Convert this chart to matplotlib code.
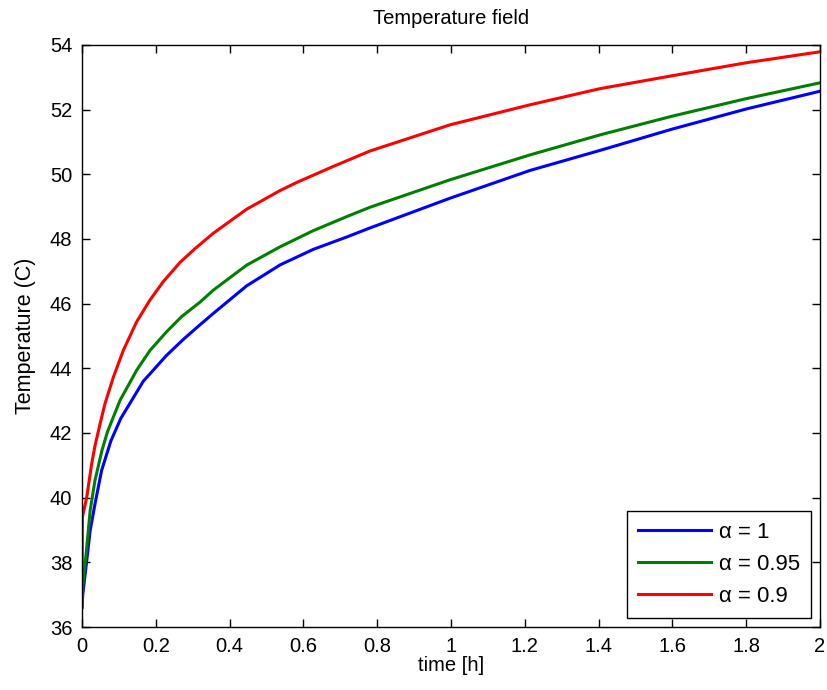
import numpy as np
import matplotlib
matplotlib.use("Agg")
import matplotlib.pyplot as plt

plt.rcParams['font.family'] = ['Liberation Sans', 'DejaVu Sans']

# time [h] and temperature (C)
t_blue = [0, 0.002, 0.0127, 0.022, 0.035, 0.053, 0.078, 0.105, 0.166, 0.229, 0.275,
          0.320, 0.356, 0.446, 0.537, 0.627, 0.717, 0.780, 0.997, 1.214, 1.404,
          1.6, 1.8, 2.0]
temp_a1 = [36.6, 37.0, 38.05, 38.98, 39.8, 40.84, 41.75, 42.45, 43.6, 44.4, 44.9,
           45.35, 45.7, 46.55, 47.2, 47.68, 48.06, 48.34, 49.26, 50.12, 50.74,
           51.4, 52.02, 52.57]

t_green = [0, 0.002, 0.011, 0.022, 0.035, 0.054, 0.069, 0.103, 0.148, 0.184, 0.229,
           0.270, 0.320, 0.356, 0.446, 0.537, 0.627, 0.717, 0.780, 0.997, 1.214,
           1.404, 1.6, 1.8, 2.0]
temp_a095 = [36.7, 37.3, 38.25, 39.6, 40.53, 41.46, 42.04, 43.01, 43.94, 44.55, 45.13,
             45.6, 46.05, 46.42, 47.19, 47.76, 48.26, 48.69, 48.98, 49.83, 50.6,
             51.22, 51.8, 52.34, 52.83]

t_red = [0, 0.001, 0.0127, 0.026, 0.035, 0.049, 0.062, 0.085, 0.112, 0.148, 0.184,
         0.220, 0.266, 0.306, 0.356, 0.446, 0.537, 0.582, 0.68, 0.780, 0.997, 1.214,
         1.404, 1.6, 1.8, 2.0]
temp_a09 = [36.6, 39.4, 40.01, 41.04, 41.6, 42.29, 42.9, 43.73, 44.56, 45.44, 46.11,
            46.68, 47.28, 47.7, 48.18, 48.92, 49.5, 49.75, 50.24, 50.72, 51.53, 52.15,
            52.65, 53.05, 53.45, 53.79]

series = [
    (t_blue, temp_a1, '#0000ff', '\u03b1 = 1'),
    (t_green, temp_a095, '#008000', '\u03b1 = 0.95'),
    (t_red, temp_a09, '#ff0000', '\u03b1 = 0.9'),
]

fig = plt.figure(figsize=(8.27, 6.9), dpi=100)
ax = fig.add_axes([0.0992, 0.0913, 0.8923, 0.8435])

for t, temp, col, lab in series:
    ax.plot(t, temp, color=col, lw=2.2, label=lab)

ax.set_xlim(0, 2)
ax.set_ylim(36, 54)
ax.set_xticks(np.arange(0, 2.01, 0.2))
ax.set_xticklabels(['0', '0.2', '0.4', '0.6', '0.8', '1', '1.2', '1.4', '1.6', '1.8', '2'])
ax.set_yticks(np.arange(36, 55, 2))
ax.tick_params(direction='in', top=True, right=True, length=6, width=1,
               labelsize=14.5, pad=7)
for s in ax.spines.values():
    s.set_linewidth(1)

ax.set_title('Temperature field', fontsize=14.5, pad=15)
ax.set_xlabel('time [h]', fontsize=14.5, labelpad=0)
ax.set_ylabel('Temperature (C)', fontsize=15.5, labelpad=10)

leg = ax.legend(loc='lower right', fontsize=16, fancybox=False, framealpha=1,
                edgecolor='black', handlelength=3.3, handletextpad=0.35,
                borderaxespad=0.4, borderpad=0.5, labelspacing=0.5)
leg.get_frame().set_linewidth(1)

fig.savefig('out.png', dpi=100)
